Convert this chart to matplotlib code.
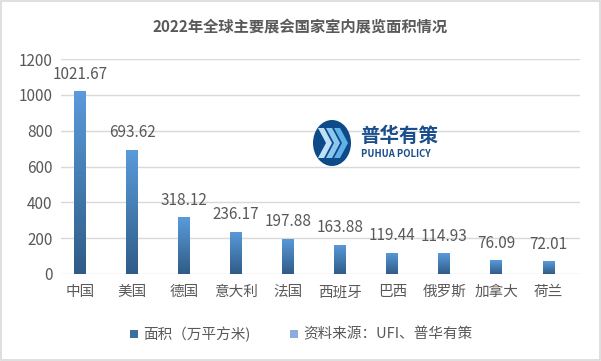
import numpy as np
import matplotlib
matplotlib.use("Agg")
import matplotlib.pyplot as plt
from matplotlib.colors import LinearSegmentedColormap
from matplotlib.patches import Rectangle, Ellipse, Polygon

plt.rcParams["font.family"] = ["Noto Sans CJK SC", "DejaVu Sans"]

countries = ["中国", "美国", "德国", "意大利", "法国", "西班牙", "巴西", "俄罗斯", "加拿大", "荷兰"]
area = [1021.67, 693.62, 318.12, 236.17, 197.88, 163.88, 119.44, 114.93, 76.09, 72.01]
y_ticks = [0, 200, 400, 600, 800, 1000, 1200]

title = "2022年全球主要展会国家室内展览面积情况"
legend_labels = ["面积（万平方米)", "资料来源：UFI、普华有策"]

text_color = "#595959"
grad = LinearSegmentedColormap.from_list("bar", ["#2F5C87", "#5A9BDB"])

fig = plt.figure(figsize=(6.01, 3.61), dpi=100)
fig.patch.set_facecolor("white")
fig.patches.append(Rectangle((0.001, 0.002), 0.997, 0.995, transform=fig.transFigure,
                             fill=False, edgecolor="#D9D9D9", linewidth=1.2))

ax = fig.add_axes([61 / 601, (361 - 274) / 361, 519 / 601, 215 / 361])
ax.set_xlim(-0.365, 9.605)
ax.set_ylim(0, 1200)

gradient = np.linspace(0, 1, 256).reshape(-1, 1)
bar_w = 0.23
for i, v in enumerate(area):
    rect = Rectangle((i - bar_w / 2, 0), bar_w, v, facecolor="none", edgecolor="none")
    ax.add_patch(rect)
    im = ax.imshow(gradient, cmap=grad, aspect="auto", origin="lower",
                   extent=(i - bar_w / 2, i + bar_w / 2, 0, v), zorder=2)
    im.set_clip_path(rect)
    ax.annotate(f"{v:.2f}", (i, v), xytext=(0, 6), textcoords="offset points",
                ha="center", va="bottom", fontsize=11, color=text_color, zorder=3)

ax.set_yticks(y_ticks)
ax.set_xticks(range(len(countries)))
ax.set_xticklabels(countries, fontsize=10.5, color=text_color)
ax.tick_params(axis="y", labelsize=11, labelcolor=text_color, length=0, pad=6)
ax.tick_params(axis="x", length=0, pad=8)
ax.grid(axis="y", color="#D9D9D9", linewidth=1)
ax.set_axisbelow(True)
for s in ax.spines.values():
    s.set_visible(False)

fig.text(0.5, 1 - 27 / 361, title, ha="center", va="center", fontsize=11,
         fontweight="bold", color=text_color)

# legend drawn by hand with squares
fig.patches.append(Rectangle((130 / 601, 1 - 338 / 361), 8 / 601, 8 / 361,
                             transform=fig.transFigure, facecolor="#3B6EA0", edgecolor="none"))
fig.text(143 / 601, 1 - 334 / 361, legend_labels[0], ha="left", va="center",
         fontsize=10.5, color=text_color)
fig.patches.append(Rectangle((290 / 601, 1 - 338 / 361), 8 / 601, 8 / 361,
                             transform=fig.transFigure, facecolor="#8FAADC", edgecolor="none"))
fig.text(303 / 601, 1 - 334 / 361, legend_labels[1], ha="left", va="center",
         fontsize=10.5, color=text_color)

# watermark logo
def fx(px):
    return px / 601

def fy(py):
    return 1 - py / 361

fig.patches.append(Ellipse((fx(332), fy(143)), 38 / 601, 46 / 361, transform=fig.transFigure,
                           facecolor="#0D4A8A", edgecolor="none", zorder=5))
for k, col in enumerate(["#BFE0F5", "#8CC8EE", "#5FB1E6"]):
    x0 = 318 + k * 8
    pts = [(x0, 128), (x0 + 6, 128), (x0 + 14, 143), (x0 + 6, 158), (x0, 158), (x0 + 8, 143)]
    fig.patches.append(Polygon([(fx(a), fy(b)) for a, b in pts], closed=True,
                               transform=fig.transFigure, facecolor=col,
                               edgecolor="none", zorder=6))
fig.text(fx(360), fy(136), "普华有策", ha="left", va="center", fontsize=14,
         fontweight="bold", color="#1A4E8C", zorder=6)
fig.text(fx(361), fy(154), "PUHUA POLICY", ha="left", va="center", fontsize=6.8,
         fontweight="bold", color="#1A4E8C", zorder=6)

fig.savefig("out.png", dpi=100)
